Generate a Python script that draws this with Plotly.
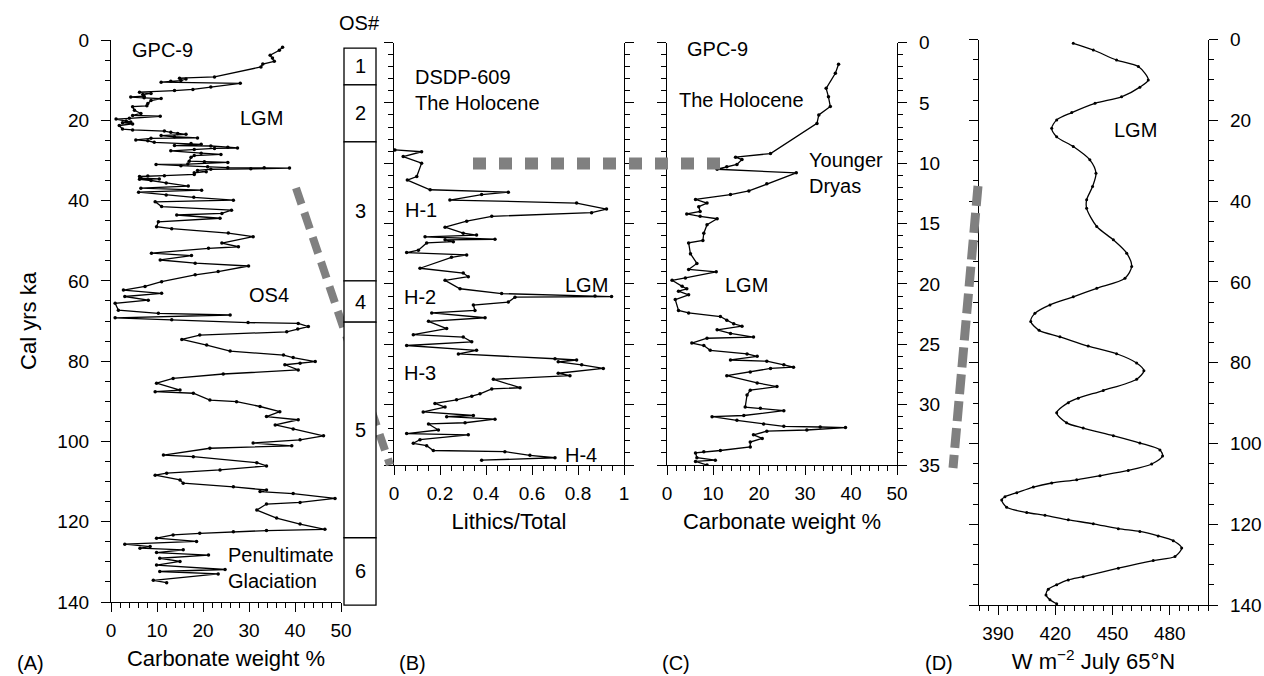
import plotly.graph_objects as go

# ---------------- data ----------------
# GPC-9 carbonate weight % versus calendar age (ka)
gpc9_age = [1.8, 2.55, 3.8, 4.5, 5.3, 6.0, 6.7, 9.2, 9.5, 9.7, 10.1, 10.3, 10.5, 10.8, 11.7, 12.3, 12.6,
            13.0, 13.3, 13.6, 14.0, 14.2, 14.4, 14.6, 15.1, 15.8, 16.4, 16.6, 17.5, 18.3, 18.8, 19.0, 19.5,
            19.7, 20.2, 20.4, 20.6, 20.9, 21.3, 22.2, 22.4, 22.7, 23.0, 23.3, 23.5, 23.8, 24.1, 24.4, 24.5,
            24.9, 25.1, 25.5, 25.8, 26.0, 26.3, 26.4, 26.7, 26.9, 27.0, 27.3, 27.6, 28.2, 28.5, 28.8, 29.2,
            30.2, 30.3, 30.5, 30.9, 31.0, 31.3, 31.6, 31.8, 31.85, 31.9, 32.1, 32.2, 32.5, 32.8, 33.1, 33.5,
            33.8, 33.9, 34.0, 34.4, 34.6, 34.7, 35.0,
            35.6, 36.4, 36.9, 37.4, 37.9, 38.6, 39.2, 39.9, 40.3, 41.5, 42.4, 43.2, 43.6, 44.4, 45.3, 46.5,
            47.0, 48.1, 49.0, 50.6, 51.5, 51.9, 53.1, 53.7, 54.8, 55.6, 56.3, 57.7, 58.5, 60.2, 61.4, 62.3,
            63.1, 63.9, 64.8, 65.6, 67.3, 68.1, 68.5, 69.2, 69.7, 70.4, 70.6, 71.4, 72.0, 72.7, 73.5, 74.6,
            76.0, 77.5, 78.5, 79.1, 80.1, 80.5, 80.9, 82.2, 83.2, 84.3, 85.5, 87.2, 87.6, 88.0, 89.7, 90.1,
            91.3, 92.6, 93.8, 94.6, 95.9, 96.9, 98.6, 99.6, 100.4, 101.1, 101.7, 103.4, 103.8, 105.3, 106.1,
            107.1, 107.9, 108.4, 109.6, 110.4, 111.3, 112.1, 112.5, 113.0, 114.2, 115.2, 115.6, 117.1, 119.1,
            120.6, 121.9, 122.2, 122.5, 122.9, 123.3, 124.1, 124.9, 125.6, 126.2, 126.6, 127.0, 127.7, 128.3,
            129.1, 129.9, 130.8, 131.9, 132.4, 133.0, 134.6, 135.2]
gpc9_carb = [37.3, 36.6, 34.6, 35.1, 35.5, 33.0, 32.6, 22.5, 14.9, 16.3, 15.2, 13.0, 10.9, 28.1, 21.7, 17.8, 13.8,
             6.2, 8.7, 6.9, 7.2, 4.3, 7.2, 10.9, 8.7, 8.0, 7.8, 4.7, 5.1, 6.5, 4.7, 10.7, 4.0,
             1.1, 3.3, 4.3, 2.5, 4.7, 1.8, 2.5, 4.7, 11.6, 13.0, 14.5, 16.3, 10.9, 13.8, 18.8, 8.7,
             5.4, 8.0, 9.4, 17.4, 19.6, 13.8, 21.7, 25.4, 27.5, 22.5, 18.1, 13.0, 19.6, 23.9, 18.1, 17.4,
             17.0, 20.3, 25.4, 16.7, 9.8, 15.2, 21.0, 25.4, 33.3, 38.8, 30.4, 21.7, 18.8, 20.7, 18.1, 18.1,
             11.6, 8.0, 6.2, 6.5, 10.5, 6.2, 8.7,
             12.0, 16.8, 6.5, 19.7, 6.0, 12.0, 18.0, 26.6, 9.6, 11.0, 26.2, 24.1, 14.3, 23.7, 10.3, 9.9,
             13.2, 25.5, 30.9, 24.1, 27.7, 21.2, 8.8, 17.5, 10.7, 18.3, 29.9, 23.3, 18.3, 11.0, 7.4, 2.7,
             11.0, 3.0, 8.1, 0.9, 1.6, 10.3, 25.9, 0.9, 13.2, 29.8, 40.7, 42.9, 40.6, 38.2, 19.3, 15.4,
             20.8, 25.9, 37.5, 39.6, 44.4, 41.1, 37.8, 40.7, 24.4, 13.5, 9.9, 15.0, 9.6, 17.9, 21.5, 27.3,
             32.4, 36.7, 33.8, 40.7, 35.7, 39.6, 46.2, 41.1, 30.9, 39.3, 21.5, 11.4, 17.9, 31.7, 33.8,
             23.7, 12.1, 9.6, 15.0, 15.7, 26.6, 33.8, 32.4, 39.6, 48.7, 41.1, 33.8, 31.7, 36.0,
             41.1, 46.5, 33.8, 26.6, 19.3, 13.5, 9.9, 18.6, 3.0, 8.5, 6.3, 15.7, 9.9, 21.2,
             10.6, 15.0, 9.9, 24.8, 10.6, 23.3, 9.2, 12.1]

# DSDP-609 lithics / total
dsdp_age = [8.9, 9.05, 9.45, 10.0, 11.1, 11.4, 12.2, 12.4, 12.6, 13.05, 13.3, 13.8, 14.1, 14.4, 14.8, 15.3,
            15.8, 15.95, 16.1, 16.3, 16.35, 16.5, 16.6, 17.2, 17.4, 17.6, 17.8, 18.7, 19.1, 19.4, 19.7, 20.4,
            20.8, 21.0, 21.05, 21.1, 21.5, 21.75, 22.2, 22.4, 22.8, 23.1, 23.7, 24.2, 24.4, 24.8, 25.1, 25.5,
            25.8, 26.2, 26.3, 26.45, 26.7, 27.0, 27.4, 27.6, 27.9, 28.6, 28.7, 29.1, 29.3, 29.6, 29.9, 30.2,
            30.6, 30.9, 31.0, 31.2, 31.5, 31.6, 32.1, 32.4, 32.5, 32.9, 33.2, 33.4, 33.8, 33.9, 34.2, 34.4, 34.6]
dsdp_lith = [0.004, 0.12, 0.04, 0.12, 0.099, 0.058, 0.157, 0.497, 0.381, 0.243, 0.794, 0.924, 0.859, 0.425, 0.316, 0.222,
             0.301, 0.359, 0.135, 0.439, 0.222, 0.258, 0.142, 0.106, 0.055, 0.316, 0.25, 0.113, 0.301, 0.323, 0.222, 0.287,
             0.468, 0.874, 0.946, 0.526, 0.497, 0.345, 0.352, 0.164, 0.396, 0.15, 0.229, 0.084, 0.301, 0.338, 0.055, 0.359,
             0.28, 0.70, 0.794, 0.714, 0.816, 0.91, 0.714, 0.765, 0.432, 0.548, 0.425, 0.374, 0.338, 0.272, 0.178, 0.222,
             0.127, 0.345, 0.229, 0.439, 0.309, 0.15, 0.193, 0.055, 0.323, 0.113, 0.084, 0.142, 0.171, 0.482, 0.591, 0.70, 0.381]

# July insolation at 65N (W m-2)
ins_age = [0.95, 2.6, 5.1, 6.7, 10.0, 11.8, 14.2, 15.8, 18.1, 19.9, 22.0, 24.1, 26.5, 29.8, 33.1, 36.4, 39.7,
           41.8, 46.3, 49.6, 52.9, 56.2, 59.1, 61.6, 63.7, 65.7, 67.8, 69.8, 72.0, 73.6, 75.9, 77.8, 80.1,
           82.0, 84.1, 86.9, 88.8, 89.9, 92.4, 94.9, 96.2, 98.1, 99.9, 101.6, 103.1, 105.1, 106.7, 108.0,
           109.0, 109.8, 110.8, 112.2, 113.2, 114.0, 115.8, 117.1, 117.8, 118.9, 119.9, 121.1, 121.8, 122.9,
           124.1, 125.9, 128.0, 129.0, 130.9, 133.0, 133.8, 135.0, 136.1, 137.5, 138.7, 139.7]
ins_val = [429.4, 439.9, 452.1, 463.5, 468.7, 464.3, 454.7, 440.8, 428.6, 420.7, 418.1, 420.7, 429.4, 438.1, 441.3, 439.5, 436.4,
           436.4, 441.7, 450.4, 457.4, 460.0, 456.5, 441.7, 429.4, 417.2, 409.3, 407.1, 411.5, 422.4, 437.2, 452.1, 462.6,
           466.4, 462.6, 445.1, 432.0, 426.8, 420.7, 425.9, 434.6, 450.4, 464.3, 474.8, 476.2, 470.5, 458.2, 443.4,
           431.2, 418.1, 408.5, 399.8, 393.6, 391.9, 394.5, 405.0, 414.6, 426.8, 439.9, 453.0, 464.3, 473.9,
           481.8, 486.2, 482.7, 471.3, 453.0, 434.6, 426.8, 420.7, 416.3, 415.1, 417.2, 420.7]

# Oxygen-isotope stages (boundaries in ka, on the panel-A age scale)
os_labels = ["1", "2", "3", "4", "5", "6"]
os_bounds = [2.0, 11.2, 25.4, 60.0, 70.3, 124.0, 140.8]

x_ticks_lith = [0, 0.2, 0.4, 0.6, 0.8, 1]
x_ticks_ins = [390, 420, 450, 480]

# ---------------- layout helpers ----------------
W, H = 1264, 676
FONT = "Liberation Sans, Arial, sans-serif"


def px(x):
    return x / W


def py(y):
    return 1 - y / H


A_X, A_Y = [111, 341], [40, 602]
B_X, B_Y = [394, 624], [42.5, 465]
C_X, C_Y = [667, 897], [42.5, 465]
D_X, D_Y = [979, 1208], [39.5, 605]


def dom_x(r):
    return [px(r[0]), px(r[1])]


def dom_y(r):
    return [py(r[1]), py(r[0])]


def axis(is_x, **kw):
    base = dict(showline=True, linecolor="black", linewidth=1.3, ticks="outside", ticklen=9,
                tickwidth=1.3, tickcolor="black", showgrid=False, zeroline=False,
                tickfont=dict(size=19, color="black", family=FONT),
                title_font=dict(size=22, color="black", family=FONT),
                automargin=False, ticklabelstandoff=2 if is_x else 8)
    base.update(kw)
    return base


def minor(d):
    return dict(ticks="outside", ticklen=5, tickwidth=1.2, tickcolor="black", dtick=d, showgrid=False)


line_style = dict(color="black", width=1.3)
mk = dict(color="black", size=3.5)

fig = go.Figure()

# Panel A
fig.add_trace(go.Scatter(x=gpc9_carb, y=gpc9_age, mode="lines+markers", line=line_style, marker=mk,
                         xaxis="x", yaxis="y", showlegend=False))
# Panel B
fig.add_trace(go.Scatter(x=dsdp_lith, y=dsdp_age, mode="lines+markers", line=line_style, marker=mk,
                         xaxis="x2", yaxis="y2", showlegend=False))
# Panel C (GPC-9, last 35 ka)
c_pairs = [(a, c) for a, c in zip(gpc9_age, gpc9_carb) if a <= 35.0]
fig.add_trace(go.Scatter(x=[p[1] for p in c_pairs], y=[p[0] for p in c_pairs], mode="lines+markers",
                         line=line_style, marker=mk, xaxis="x3", yaxis="y3", showlegend=False))
# Panel D
fig.add_trace(go.Scatter(x=ins_val, y=ins_age, mode="lines+markers",
                         line=dict(color="black", width=1.3, shape="spline", smoothing=0.8),
                         marker=dict(color="black", size=3), xaxis="x4", yaxis="y4", showlegend=False))

A_RANGE = [140, 0]

shapes = []
# dashed connector lines (gray)
GRAY = "#808080"
shapes.append(dict(type="line", xref="paper", yref="paper", x0=px(296), y0=py(188), x1=px(390), y1=py(465),
                   line=dict(color=GRAY, width=8, dash="17px,9px"), layer="above"))
shapes.append(dict(type="line", xref="paper", yref="paper", x0=px(473), y0=py(163.5), x1=px(725), y1=py(163.5),
                   line=dict(color=GRAY, width=12, dash="13px,13px"), layer="above"))
shapes.append(dict(type="line", xref="paper", yref="paper", x0=px(978), y0=py(186), x1=px(953), y1=py(468),
                   line=dict(color=GRAY, width=9, dash="20px,7px"), layer="above"))

# OS# column
annotations = []
for i, lab in enumerate(os_labels):
    y0 = (A_RANGE[0] - os_bounds[i]) / (A_RANGE[0] - A_RANGE[1])
    y1 = (A_RANGE[0] - os_bounds[i + 1]) / (A_RANGE[0] - A_RANGE[1])
    shapes.append(dict(type="rect", xref="paper", yref="y domain", x0=px(344), x1=px(376), y0=y0, y1=y1,
                       line=dict(color="black", width=1.3), fillcolor="white", layer="above"))
    annotations.append(dict(text=lab, xref="paper", yref="y domain", x=px(360), y=(y0 + y1) / 2,
                            xanchor="center", yanchor="middle",
                            showarrow=False, font=dict(size=20, color="black", family=FONT)))
annotations.append(dict(text="OS#", xref="paper", yref="paper", x=px(359), y=py(23), showarrow=False,
                        xanchor="center", yanchor="middle",
                        font=dict(size=20, color="black", family=FONT)))


def note(text, x, y, xr, yr):
    annotations.append(dict(text=text, x=x, y=y, xref=xr, yref=yr, showarrow=False, xanchor="left",
                            yanchor="middle", align="left",
                            font=dict(size=20, color="black", family=FONT)))


# Panel texts
note("GPC-9", 4.1, 2.5, "x", "y")
note("LGM", 27.6, 19.4, "x", "y")
note("OS4", 29.5, 63.5, "x", "y")
note("Penultimate<br>Glaciation", 25.0, 131.5, "x", "y")
note("DSDP-609<br>The Holocene", 0.083, 3.9, "x2", "y2")
note("H-1", 0.04, 13.9, "x2", "y2")
note("H-2", 0.035, 21.1, "x2", "y2")
note("LGM", 0.735, 20.1, "x2", "y2")
note("H-3", 0.035, 27.4, "x2", "y2")
note("H-4", 0.735, 34.2, "x2", "y2")
note("GPC-9", 3.9, 0.5, "x3", "y3")
note("The Holocene", 2.2, 4.8, "x3", "y3")
note("Younger<br>Dryas", 30.4, 10.8, "x3", "y3")
note("LGM", 12.2, 20.1, "x3", "y3")
note("LGM", 449.7, 22.4, "x4", "y4")

for lab, x in [("(A)", 15), ("(B)", 397), ("(C)", 660), ("(D)", 923)]:
    annotations.append(dict(text=lab, xref="paper", yref="paper", x=px(x), y=py(663), xanchor="left",
                            yanchor="middle", showarrow=False, font=dict(size=20, color="black", family=FONT)))

fig.update_layout(
    width=W, height=H, margin=dict(l=0, r=0, t=0, b=0),
    paper_bgcolor="white", plot_bgcolor="white",
    font=dict(family=FONT, color="black"),
    xaxis=axis(True, domain=dom_x(A_X), anchor="y", range=[0, 50], dtick=10, minor=minor(2),
               title=dict(text="Carbonate weight %", standoff=10)),
    yaxis=axis(False, domain=dom_y(A_Y), anchor="x", range=A_RANGE, dtick=20, minor=minor(5),
               title=dict(text="Cal yrs ka", standoff=14)),
    xaxis2=axis(True, domain=dom_x(B_X), anchor="y2", range=[0, 1], tickvals=x_ticks_lith,
                ticktext=[f"{v:g}" for v in x_ticks_lith], minor=minor(0.05),
                title=dict(text="Lithics/Total", standoff=10)),
    yaxis2=axis(False, domain=dom_y(B_Y), anchor="x2", range=[35, 0], dtick=5, minor=minor(1),
                showticklabels=False, mirror="ticks"),
    xaxis3=axis(True, domain=dom_x(C_X), anchor="y3", range=[0, 50], dtick=10, minor=minor(2),
                title=dict(text="Carbonate weight %", standoff=10)),
    yaxis3=axis(False, domain=dom_y(C_Y), anchor="x3", range=[35, 0], dtick=5, minor=minor(1),
                side="right", mirror="ticks"),
    xaxis4=axis(True, domain=dom_x(D_X), anchor="y4", range=[380, 500], tickvals=x_ticks_ins, minor=minor(5),
                title=dict(text="W m<sup>\u22122</sup> July 65\u00b0N", standoff=10)),
    yaxis4=axis(False, domain=dom_y(D_Y), anchor="x4", range=[140, 0], dtick=20, minor=minor(5),
                side="right", mirror="ticks"),
    shapes=shapes, annotations=annotations,
)

fig.write_html("out.html", config={"displayModeBar": False},
               post_script="document.body.style.margin='0';document.body.style.overflow='hidden';")
